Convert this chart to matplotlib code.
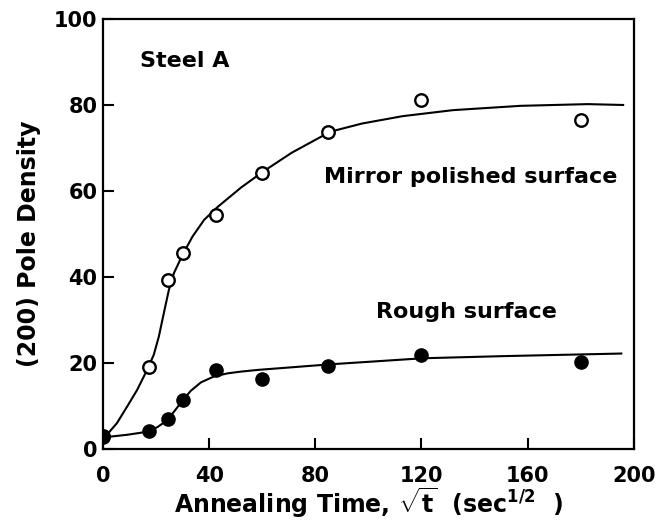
import matplotlib
matplotlib.use("Agg")
import matplotlib.pyplot as plt

plt.rcParams['font.family'] = ['DejaVu Sans']
plt.rcParams['font.weight'] = 'bold'
plt.rcParams['mathtext.fontset'] = 'custom'
plt.rcParams['mathtext.rm'] = 'DejaVu Sans:bold'
plt.rcParams['mathtext.it'] = 'DejaVu Sans:bold'
plt.rcParams['mathtext.bf'] = 'DejaVu Sans:bold'

# measured points (x = sqrt(t), sec^1/2)
x_mirror = [0, 17.3, 24.5, 30, 42.4, 60, 84.9, 120, 180]
y_mirror = [3, 19.1, 39.3, 45.5, 54.3, 64.1, 73.7, 81.2, 76.5]
x_rough = [0, 17.3, 24.5, 30, 42.4, 60, 84.9, 120, 180]
y_rough = [2.9, 4.3, 6.9, 11.4, 18.4, 16.2, 19.3, 21.9, 20.3]

# fitted curves
xc_mirror = [0, 5.2, 9.0, 12.8, 16.6, 19.1, 21.0, 22.9, 24.8, 26.7, 29.9, 33.7,
             38.1, 43.2, 52.0, 60.3, 71.1, 85.7, 97.7, 112.9, 131.9, 157.3,
             182.6, 196]
yc_mirror = [2.3, 6.0, 9.8, 13.7, 18.4, 21.9, 26.1, 31.6, 37.0, 40.9, 45.1, 49.4,
             53.3, 56.3, 60.8, 64.5, 68.9, 73.8, 75.7, 77.4, 78.8, 79.8,
             80.2, 80.0]
xc_rough = [0, 9.0, 16.6, 20.5, 24.2, 27, 29.9, 33, 36.9, 41.9, 47, 52, 58.4,
            71.1, 85.7, 120.5, 151, 195.3]
yc_rough = [2.7, 3.3, 4.0, 5.1, 6.7, 8.9, 11.2, 13.5, 15.5, 16.9, 17.6, 18.0, 18.4,
            19.0, 19.7, 21.1, 21.6, 22.2]

x_ticks = [0, 40, 80, 120, 160, 200]
y_ticks = [0, 20, 40, 60, 80, 100]

fig = plt.figure(figsize=(6.65, 5.27), dpi=100)
ax = fig.add_axes([0.155, 0.148, 0.798, 0.816])

ax.plot(xc_mirror, yc_mirror, color='black', lw=1.5, zorder=2,
        solid_joinstyle='round')
ax.plot(xc_rough, yc_rough, color='black', lw=1.5, zorder=2,
        solid_joinstyle='round')
ax.plot(x_mirror, y_mirror, 'o', ms=9, mfc='white', mec='black', mew=1.7, zorder=3)
ax.plot(x_rough, y_rough, 'o', ms=9.5, mfc='black', mec='black', zorder=4)

ax.set_xlim(0, 200)
ax.set_ylim(0, 100)
ax.set_xticks(x_ticks)
ax.set_yticks(y_ticks)
ax.tick_params(axis='both', direction='in', length=8, width=1.5, labelsize=15)
ax.tick_params(axis='x', pad=12)
ax.tick_params(axis='y', pad=4)
for lbl in ax.get_xticklabels() + ax.get_yticklabels():
    lbl.set_fontweight('bold')
for s in ax.spines.values():
    s.set_linewidth(1.6)

ax.set_xlabel(r"Annealing Time, $\sqrt{t}$  (sec$^{1/2}$  )", fontsize=17,
              fontweight='bold', labelpad=0)
ax.set_ylabel("(200) Pole Density", fontsize=17, fontweight='bold')
ax.yaxis.set_label_coords(-0.117, 0.477)

ax.text(14, 90.2, "Steel A", fontsize=16, fontweight='bold', va='center', ha='left')
ax.text(83.2, 63.3, "Mirror polished surface", fontsize=16, fontweight='bold',
        va='center', ha='left')
ax.text(102.8, 31.9, "Rough surface", fontsize=16, fontweight='bold',
        va='center', ha='left')

fig.savefig("out.png", dpi=100)
